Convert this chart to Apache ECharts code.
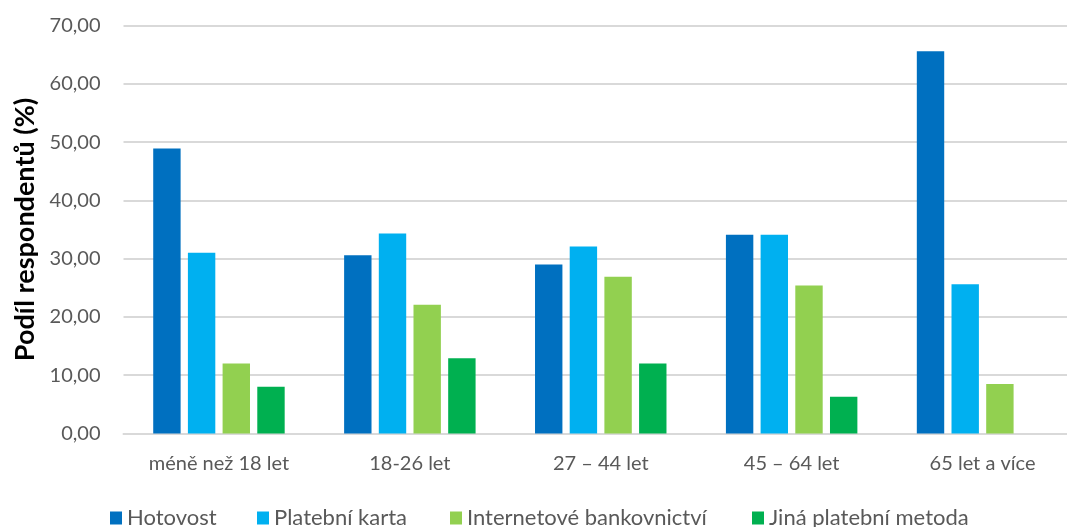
<!DOCTYPE html>
<html>
<head>
<meta charset="utf-8">
<script src="https://cdn.jsdelivr.net/npm/echarts@6/dist/echarts.min.js"></script>
<style>
  html, body { margin: 0; padding: 0; background: #ffffff; }
  #chart { width: 1067px; height: 527px; }
</style>
</head>
<body>
<div id="chart"></div>
<script>
// Age groups on the category axis
const categories = ['méně než 18 let', '18-26 let', '27 – 44 let', '45 – 64 let', '65 let a více'];

// Share of respondents (%) per preferred payment method
const hotovost = [48.9, 30.6, 29.0, 34.1, 65.6];
const platebniKarta = [31.0, 34.3, 32.1, 34.1, 25.6];
const internetoveBankovnictvi = [12.0, 22.1, 26.9, 25.4, 8.5];
const jinaMetoda = [8.0, 12.9, 12.0, 6.3, 0];

const seriesNames = ['Hotovost', 'Platební karta', 'Internetové bankovnictví', 'Jiná platební metoda'];
const seriesColors = ['#0070C0', '#00B0F0', '#92D050', '#00B050'];
const seriesData = [hotovost, platebniKarta, internetoveBankovnictvi, jinaMetoda];

// Horizontal start of each legend entry
const legendLefts = [110, 257, 450, 752];

const FONT = 'Lato, "Open Sans", sans-serif';
const chart = echarts.init(document.getElementById('chart'), null, { renderer: 'canvas' });

chart.setOption({
  animation: false,
  // the plot area runs past the right edge of the canvas
  grid: { left: 123.5, right: -11, top: 25.5, bottom: 93.5, outerBoundsMode: 'none' },
  legend: seriesNames.map((name, i) => ({
    data: [name],
    left: legendLefts[i],
    top: 507,
    padding: 0,
    itemWidth: 12,
    itemHeight: 13,
    icon: 'rect',
    textStyle: { fontFamily: FONT, fontSize: 22, color: '#595959', padding: [0, 0, 0, 0] }
  })),
  xAxis: {
    type: 'category',
    data: categories,
    axisLine: { lineStyle: { color: '#d9d9d9', width: 2 } },
    axisTick: { show: false },
    axisLabel: { fontFamily: FONT, fontSize: 20, color: '#595959', margin: 20 }
  },
  yAxis: {
    type: 'value',
    min: 0,
    max: 70,
    interval: 10,
    name: 'Podíl respondentů (%)',
    nameLocation: 'middle',
    nameGap: 83,
    nameTextStyle: { fontFamily: FONT, fontSize: 27, fontWeight: 'bold', color: '#000000' },
    axisLine: { show: false },
    axisTick: { show: false },
    axisLabel: {
      fontFamily: FONT, fontSize: 20, color: '#595959', margin: 23,
      formatter: v => v.toFixed(2).replace('.', ',')
    },
    splitLine: { lineStyle: { color: '#d9d9d9', width: 2 } }
  },
  series: seriesNames.map((name, i) => ({
    name,
    type: 'bar',
    data: seriesData[i],
    barWidth: 27.4,
    barGap: '26.6%',
    itemStyle: { color: seriesColors[i] }
  }))
});
</script>
</body>
</html>
